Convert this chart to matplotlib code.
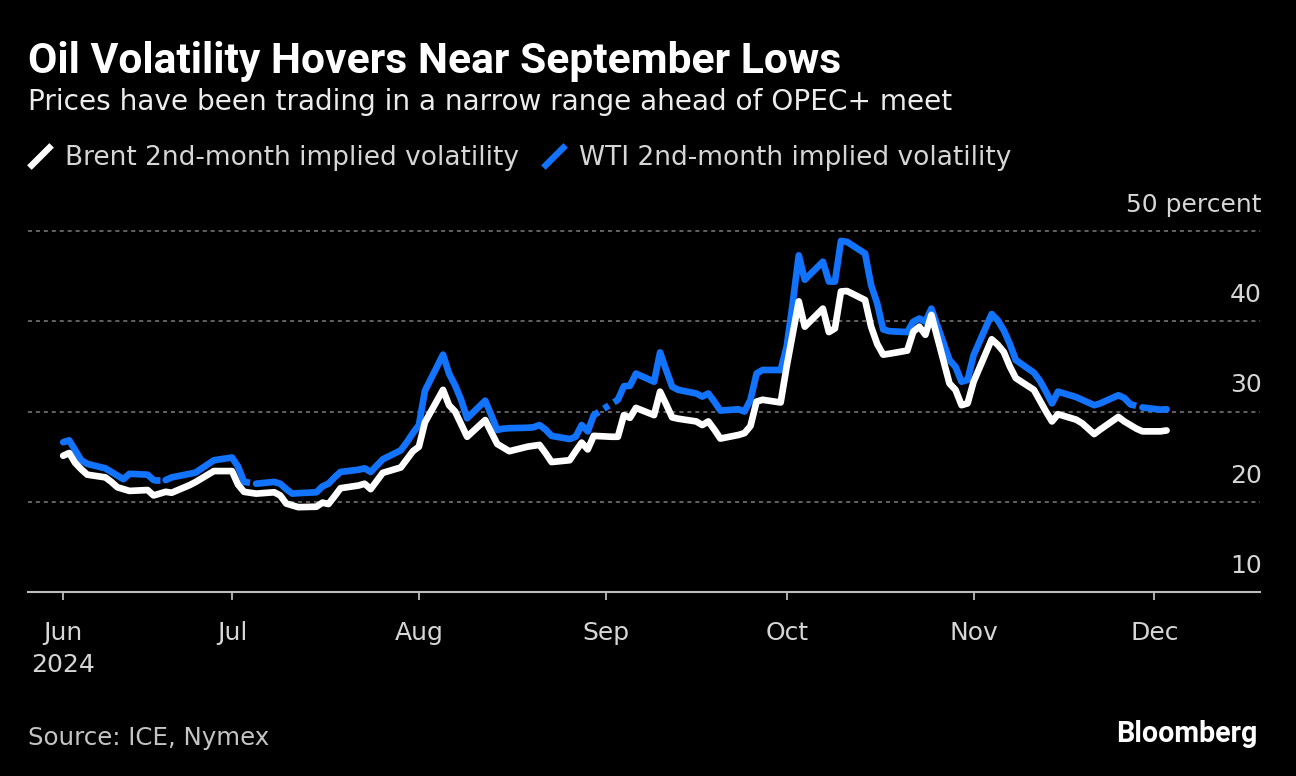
import numpy as np
import pandas as pd
import matplotlib
matplotlib.use("Agg")
import matplotlib.pyplot as plt
from matplotlib.lines import Line2D
from matplotlib.path import Path

nan = np.nan

# ---------------- data ----------------
title = "Oil Volatility Hovers Near September Lows"
subtitle = "Prices have been trading in a narrow range ahead of OPEC+ meet"
series_names = ["Brent 2nd-month implied volatility", "WTI 2nd-month implied volatility"]
source = "Source: ICE, Nymex"

start_date, end_date = "2024-06-03", "2024-12-03"   # business days

brent_jun = [25.1, 25.4, 24.3, 23.6, 23.0, 22.7, 22.2, 21.6, 21.4, 21.2,
             21.3, 20.7, 20.9, 21.1, 21.0, 21.85, 22.2, 22.6, 23.0, 23.4]
brent_jul = [23.4, 21.9, 21.1, 21.0, 20.9, 21.05, 20.7, 19.8, 19.6, 19.4,
             19.45, 19.9, 19.75, 20.6, 21.5, 21.8, 22.0, 21.4, 22.3, 23.2,
             23.8, 24.7, 25.6]
brent_aug = [26.1, 28.8, 32.4, 30.7, 30.0, 28.6, 27.2, 29.05, 27.7, 26.4,
             26.0, 25.6, 26.1, 26.2, 26.3, 25.4, 24.4, 24.6, 25.6, 26.55,
             25.8, 27.3]
brent_sep = [27.2, 27.2, 29.6, 29.3, 30.4, 29.6, 32.2, 30.8, 29.35, 29.2,
             28.9, 28.5, 28.9, 28.0, 27.0, 27.4, 27.6, 28.4, 31.1, 31.3,
             31.0]
brent_oct = [35.0, 38.6, 42.2, 39.4, 41.4, 38.8, 39.2, 43.3, 43.35, 42.35,
             39.4, 37.5, 36.3, 36.4, 36.75, 38.85, 39.4, 38.5, 40.7, 33.1,
             32.4, 30.7, 30.9]
brent_nov = [33.3, 38.0, 37.4, 36.6, 35.0, 33.7, 32.4, 31.2, 30.0, 28.9,
             29.7, 29.1, 28.7, 28.1, 27.5, 28.0, 29.4, 28.9, 28.5, 28.1,
             27.8]
brent_dec = [27.8, 27.9]

wti_jun = [26.6, 26.8, 25.7, 24.6, 24.2, 23.7, 23.3, 22.9, 22.5, 23.1,
           23.0, 22.4, nan, 22.4, 22.7, 23.1, 23.25, 23.7, 24.15, 24.6]
wti_jul = [24.9, 23.9, 22.2, nan, 22.0, 22.2, 22.0, 21.4, 20.9, 20.95,
           21.05, 21.7, 22.0, 22.7, 23.3, 23.55, 23.7, 23.3, 24.0, 24.7,
           25.7, 26.6, 27.6]
wti_aug = [28.5, 32.3, 36.3, 34.2, 32.9, 31.3, 29.25, 31.2, 29.6, 27.95,
           28.1, 28.15, 28.2, 28.25, 28.5, 28.0, 27.3, 26.95, 27.2, 28.5,
           27.8, 29.6]
wti_sep = [nan, 31.3, 32.8, 32.85, 34.2, 33.3, 36.55, 34.6, 32.75, 32.4,
           32.0, 31.65, 32.0, 31.1, 30.1, 30.25, 30.0, 31.3, 34.2, 34.6,
           34.6]
wti_oct = [37.2, 42.0, 47.3, 44.6, 46.6, 44.4, 44.4, 48.9, 48.8, 47.5,
           44.0, 42.0, 39.1, 38.9, 38.8, 39.95, 40.3, 39.95, 41.4, 35.7,
           34.95, 33.3, 33.5]
wti_nov = [36.25, 40.8, 40.1, 39.0, 37.5, 35.7, 34.3, 33.4, 32.2, 30.9,
           32.2, 31.6, 31.3, 31.0, 30.7, 30.9, 31.8, 31.5, 30.8, nan,
           30.45]
wti_dec = [30.2, 30.25]

y_ticks = [10, 20, 30, 40, 50]
y_tick_labels = ["10", "20", "30", "40", "50 percent"]
x_ticks = ["2024-06-03", "2024-07-01", "2024-08-01", "2024-09-01",
           "2024-10-01", "2024-11-01", "2024-12-01"]
x_tick_labels = ["Jun\n2024", "Jul", "Aug", "Sep", "Oct", "Nov", "Dec"]

# ---------------- assemble ----------------
dates = pd.bdate_range(start_date, end_date)
brent = np.array(brent_jun + brent_jul + brent_aug + brent_sep + brent_oct + brent_nov + brent_dec)
wti = np.array(wti_jun + wti_jul + wti_aug + wti_sep + wti_oct + wti_nov + wti_dec)
assert len(dates) == len(brent) == len(wti)

# ---------------- style ----------------
BG = "black"
BLUE = "#1273ff"
WHITE = "#ffffff"
GRID = "#6a6a6a"
TEXT = "#d6d6d6"
LW = 4.8

W, H, DPI = 1296, 776, 100
fig = plt.figure(figsize=(W / DPI, H / DPI), dpi=DPI, facecolor=BG)
plt.rcParams["font.family"] = ["DejaVu Sans"]

# axes: bottom (10) at y=592px, 50 at y=231px, x from 28 to 1260 px
ppu = (592 - 231) / 40.0
ymax = 50.5
top_px = 231 - (ymax - 50) * ppu
ax = fig.add_axes([28 / W, 1 - 592 / H, (1260 - 28) / W, (592 - top_px) / H])
ax.set_facecolor(BG)
ax.set_ylim(10, ymax)
ax.set_xlim(pd.Timestamp("2024-05-28 04:00"), pd.Timestamp("2024-12-18 12:00"))

for s in ["top", "right", "left"]:
    ax.spines[s].set_visible(False)
ax.spines["bottom"].set_color("#bdbdbd")
ax.spines["bottom"].set_linewidth(1.5)
ax.spines["bottom"].set_zorder(5)

ax.set_yticks(y_ticks)
ax.tick_params(axis="y", length=0, labelleft=False, labelright=False)
ax.yaxis.grid(True, color=GRID, linestyle=(0, (2.2, 2.2)), linewidth=1.3)
for v, lab in zip(y_ticks, y_tick_labels):
    ax.annotate(lab, xy=(1, v), xycoords=ax.get_yaxis_transform(),
                xytext=(2, 19), textcoords="offset pixels",
                ha="right", va="baseline", color=TEXT, fontsize=18)

ax.set_xticks(pd.to_datetime(x_ticks))
ax.set_xticklabels(x_tick_labels)
ax.tick_params(axis="x", direction="out", length=6, width=1.3, color="#bdbdbd",
               labelcolor=TEXT, labelsize=18, pad=15)
for t in ax.get_xticklabels():
    t.set_linespacing(1.42)

# lines
ax.plot(dates, wti, color=BLUE, lw=LW, solid_capstyle="round",
        solid_joinstyle="round", zorder=3, clip_on=False)
# dashed connectors across missing WTI days
dash = 4.3 / LW
isn = np.isnan(wti)
i = 0
while i < len(wti):
    if isn[i]:
        j = i
        while j < len(wti) and isn[j]:
            j += 1
        if i > 0 and j < len(wti):
            ax.plot([dates[i - 1], dates[j]], [wti[i - 1], wti[j]], color=BLUE,
                    lw=LW, dashes=(dash, dash), dash_capstyle="butt", zorder=3)
        i = j
    else:
        i += 1
ax.plot(dates, brent, color=WHITE, lw=LW, solid_capstyle="round",
        solid_joinstyle="round", zorder=4, clip_on=False)

# ---------------- texts ----------------
renderer = fig.canvas.get_renderer()

def fit_width(t, target_px):
    w = t.get_window_extent(renderer=renderer).width
    t.set_fontsize(t.get_fontsize() * target_px / w)

t_title = fig.text(28 / W, 1 - 73 / H, title, color="white", fontsize=24,
                   fontweight="bold", family=["Roboto", "DejaVu Sans"], va="baseline")
fit_width(t_title, 814)
t_sub = fig.text(28 / W, 1 - 110 / H, subtitle, color="#ececec", fontsize=19,
                 va="baseline")
fit_width(t_sub, 930)

slash = Path([(-1.0, -1.0), (1.0, 1.0)], [Path.MOVETO, Path.LINETO])
handles = [Line2D([], [], linestyle="none", marker=slash, markersize=16,
                  markeredgewidth=4.6, markeredgecolor=c, markerfacecolor="none")
           for c in (WHITE, BLUE)]
leg = fig.legend(handles, series_names, loc="center left",
                 bbox_to_anchor=(27 / W, 1 - 158 / H), frameon=False, ncol=2,
                 fontsize=19, labelcolor=TEXT, handlelength=1.0,
                 handletextpad=0.45, columnspacing=0.8, borderaxespad=0,
                 borderpad=0)

t_src = fig.text(28 / W, 1 - 745 / H, source, color="#c4c4c4", fontsize=17,
                 va="baseline")
fit_width(t_src, 242)
t_bb = fig.text(1257 / W, 1 - 742 / H, "Bloomberg", color="white", fontsize=18,
                fontweight="bold", family=["Roboto", "DejaVu Sans"],
                ha="right", va="baseline")
fit_width(t_bb, 142)

fig.savefig("out.png", dpi=DPI, facecolor=BG)
